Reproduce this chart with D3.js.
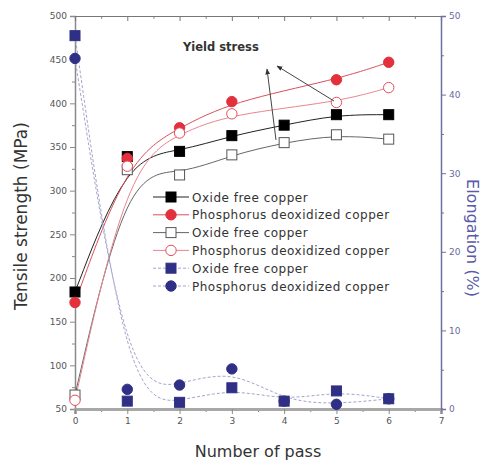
<!DOCTYPE html>
<html><head><meta charset="utf-8">
<script src="https://cdn.jsdelivr.net/npm/d3@7/dist/d3.min.js"></script>
<style>body{margin:0;background:#fff;font-family:"DejaVu Sans",sans-serif}</style>
</head><body><svg id="c" width="486" height="467"></svg>
<script>
const passes = [0,1,2,3,4,5,6];
const utsOxide   = [184, 339, 345, 363, 375, 387, 387];
const utsPhos    = [172, 337, 372, 402, null, 427, 447];
const ysOxide    = [66, 324, 318, 341, 355, 364, 359];
const ysPhos     = [60, 328, 366, 388, null, 401, 418];
const elOxide    = [47.5, 1.0, 0.85, 2.7, 1.0, 2.3, 1.3];
const elPhos     = [44.6, 2.5, 3.05, 5.1, 1.0, 0.6, 1.3];
const legendLabels = ["Oxide free copper","Phosphorus deoxidized copper","Oxide free copper","Phosphorus deoxidized copper","Oxide free copper","Phosphorus deoxidized copper"];
const xTicks = [0,1,2,3,4,5,6,7];
const yTicks = [50,100,150,200,250,300,350,400,450,500];
const y2Ticks = [0,10,20,30,40,50];

const svg = d3.select("#c");
const L=75,R=441,T=16,B=409;
const x = d3.scaleLinear().domain([0,7]).range([L,R]);
const y = d3.scaleLinear().domain([50,500]).range([B,T]);
const y2 = d3.scaleLinear().domain([0,50]).range([B,T]);

const series = [
  {v:utsOxide, sc:y, shape:"square", fill:"#000", stroke:"#000", line:"#222", dash:null},
  {v:utsPhos, sc:y, shape:"circle", fill:"#e2303c", stroke:"#e2303c", line:"#d9505a", dash:null},
  {v:ysOxide, sc:y, shape:"square", fill:"#fff", stroke:"#555", line:"#666", dash:null},
  {v:ysPhos, sc:y, shape:"circle", fill:"#fff", stroke:"#e0505a", line:"#e8868c", dash:null},
  {v:elOxide, sc:y2, shape:"square", fill:"#2f2f85", stroke:"#2f2f85", line:"#a4a4cc", dash:"3,2"},
  {v:elPhos, sc:y2, shape:"circle", fill:"#2f2f85", stroke:"#2f2f85", line:"#a4a4cc", dash:"3,2"}
];

const defs = svg.append("defs");
defs.append("clipPath").attr("id","clip").append("rect")
  .attr("x",L).attr("y",T).attr("width",R-L).attr("height",B-T);

const gray="#8a8a8a";
const ax = svg.append("g");
function styleAxis(g, col, txtCol){
  g.selectAll(".domain").attr("stroke",col).attr("stroke-width",1.5);
  g.selectAll("line").attr("stroke",col);
  g.selectAll("text").attr("fill",txtCol).style("font-size","9px").style("font-family","DejaVu Sans");
}
const minorL = ax.append("g").attr("transform",`translate(${L},0)`)
  .call(d3.axisLeft(y).tickValues(d3.range(75,500,50)).tickSize(3).tickFormat(""));
const minorB = ax.append("g").attr("transform",`translate(0,${B})`)
  .call(d3.axisBottom(x).tickValues(d3.range(0.5,7,1)).tickSize(3).tickFormat(""));
const minorT = ax.append("g").attr("transform",`translate(0,${T})`)
  .call(d3.axisBottom(x).tickValues(d3.range(0.5,7,1)).tickSize(3).tickFormat(""));
const minorR = ax.append("g").attr("transform",`translate(${R},0)`)
  .call(d3.axisRight(y2).tickValues(d3.range(5,50,10)).tickSize(3).tickFormat(""));
[minorL,minorB,minorT,minorR].forEach(g=>g.select(".domain").remove());
styleAxis(minorL,gray,"#555"); styleAxis(minorB,gray,"#555"); styleAxis(minorT,gray,"#555");
styleAxis(minorR,"#6f6fa0","#6a6aa0");

const leftAx = ax.append("g").attr("transform",`translate(${L},0)`)
  .call(d3.axisLeft(y).tickValues(yTicks).tickSize(5).tickPadding(3).tickFormat(d3.format("d")));
const bottomAx = ax.append("g").attr("transform",`translate(0,${B})`)
  .call(d3.axisBottom(x).tickValues(xTicks).tickSize(5).tickPadding(4).tickFormat(d3.format("d")));
const topAx = ax.append("g").attr("transform",`translate(0,${T})`)
  .call(d3.axisBottom(x).tickValues(xTicks).tickSize(5).tickFormat(""));
const rightAx = ax.append("g").attr("transform",`translate(${R},0)`)
  .call(d3.axisRight(y2).tickValues(y2Ticks).tickSize(5).tickPadding(3).tickFormat(d3.format("d")));
styleAxis(leftAx,gray,"#555"); styleAxis(bottomAx,gray,"#555"); styleAxis(topAx,"#777","#555");
styleAxis(rightAx,"#6f6fa0","#6a6aa0");
bottomAx.select(".domain").attr("stroke","#a8a8a8").attr("stroke-width",3);
topAx.select(".domain").attr("stroke-width",1.2);

const plot = svg.append("g").attr("clip-path","url(#clip)");
series.forEach(s=>{
  const pts = passes.map((p,i)=>[p,s.v[i]]).filter(d=>d[1]!=null);
  const ln = d3.line().x(d=>x(d[0])).y(d=>s.sc(d[1])).curve(d3.curveBasis);
  plot.append("path").attr("d",ln(pts)).attr("fill","none").attr("stroke",s.line)
    .attr("stroke-width",1).attr("stroke-dasharray",s.dash);
});

function marker(g,s,cx,cy){
  if(s.shape==="square"){
    g.append("rect").attr("x",cx-5).attr("y",cy-5).attr("width",10).attr("height",10)
      .attr("fill",s.fill).attr("stroke",s.stroke).attr("stroke-width",1);
  } else {
    g.append("circle").attr("cx",cx).attr("cy",cy).attr("r",5.2)
      .attr("fill",s.fill).attr("stroke",s.stroke).attr("stroke-width",1);
  }
}
const mk = svg.append("g");
series.forEach(s=>{
  passes.forEach((p,i)=>{ if(s.v[i]!=null) marker(mk,s,x(p),s.sc(s.v[i])); });
});

const lg = svg.append("g");
series.forEach((s,i)=>{
  const yy = 197 + i*17.8;
  lg.append("line").attr("x1",153).attr("x2",189).attr("y1",yy).attr("y2",yy)
    .attr("stroke",s.line).attr("stroke-dasharray",s.dash);
  marker(lg,s,171,yy);
  lg.append("text").attr("x",192).attr("y",yy+4.5).text(legendLabels[i])
    .style("font-size","12px").style("letter-spacing","0.5px").style("font-family","DejaVu Sans").attr("fill","#333");
});

svg.append("text").attr("x",183).attr("y",51).text("Yield stress")
  .style("font-size","11.5px").style("font-weight","bold").style("font-family","DejaVu Sans").attr("fill","#333");
defs.append("marker").attr("id","ah").attr("viewBox","0 0 10 10").attr("refX",9).attr("refY",5)
  .attr("markerWidth",6).attr("markerHeight",6).attr("orient","auto")
  .append("path").attr("d","M0,1L10,5L0,9Z").attr("fill","#333");
svg.append("line").attr("x1",276).attr("y1",140).attr("x2",267).attr("y2",69)
  .attr("stroke","#444").attr("marker-end","url(#ah)");
svg.append("line").attr("x1",334).attr("y1",101).attr("x2",277).attr("y2",66)
  .attr("stroke","#444").attr("marker-end","url(#ah)");

svg.append("text").attr("x",258).attr("y",457).attr("text-anchor","middle").text("Number of pass")
  .style("font-size","16px").style("font-family","DejaVu Sans").attr("fill","#333");
svg.append("text").attr("transform","translate(27,216) rotate(-90)").attr("text-anchor","middle")
  .text("Tensile strength (MPa)").style("font-size","17px").style("font-family","DejaVu Sans").attr("fill","#333");
svg.append("text").attr("transform","translate(467,238) rotate(90)").attr("text-anchor","middle")
  .text("Elongation (%)").style("font-size","16px").style("font-family","DejaVu Sans").attr("fill","#5a5aa8");
</script></body></html>
